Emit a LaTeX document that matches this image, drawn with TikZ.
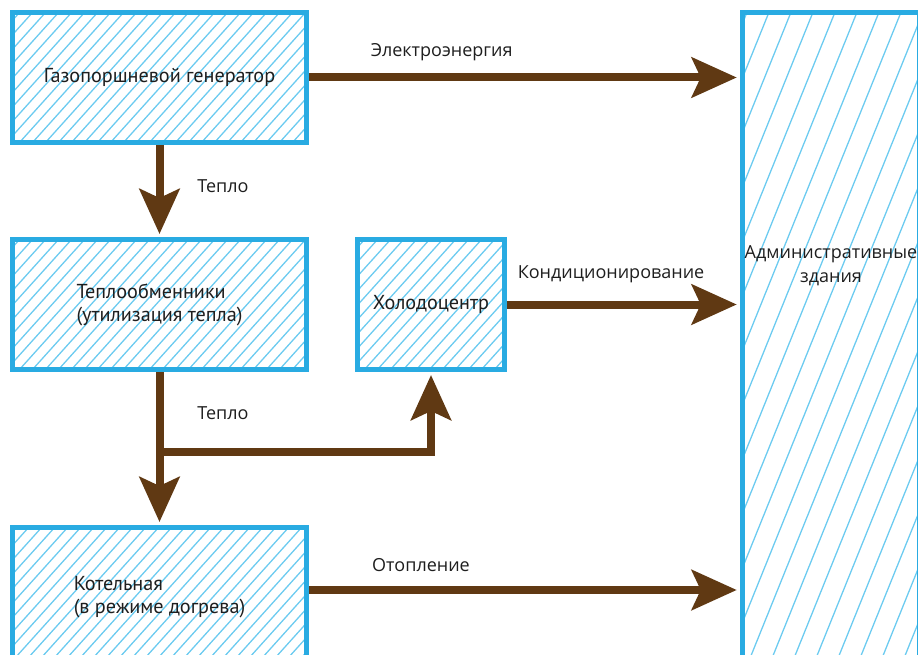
\documentclass[tikz,border=0pt]{standalone}
\usepackage{fontspec}
\setmainfont{PT Sans}
\newfontfamily\labelfont{Open Sans}
\usetikzlibrary{arrows.meta}

\definecolor{framecol}{HTML}{29ABE2}
\definecolor{hatchcol}{HTML}{6CCBF0}
\definecolor{flowcol}{HTML}{603913}
\definecolor{inkcol}{HTML}{1E1E1E}

\begin{document}
\begin{tikzpicture}[x=1pt, y=-1pt,
      hatched/.style 2 args = {path picture={
          \foreach \k in {0,...,80}
            \draw[hatchcol, line width=1.3pt]
              ([xshift=\k*#1-500pt]path picture bounding box.south west) -- ++(#2:900pt);
        }},
      block/.style = {shape=rectangle, draw=framecol, line width=5pt, align=left,
                      text=inkcol, font=\fontsize{20.2}{23}\selectfont, inner sep=0pt},
      flow/.style = {draw=flowcol, line width=8pt, shorten >=3pt,
                     -{Stealth[length=45pt, width=40pt, inset=9pt]}},
      flowlabel/.style = {font=\labelfont\fontsize{18}{24}\selectfont, text=inkcol,
                          inner sep=0pt, text height=12.5pt, text depth=0pt}
      ]
      \useasboundingbox (0,0) rectangle (918,655);
      \node[block, hatched={13pt}{48}, minimum width=294pt, minimum height=130pt]
        (gen) at (159.5,77.5) {Газопоршневой генератор};
      \node[block, hatched={13pt}{48}, minimum width=294pt, minimum height=130pt]
        (hx) at (159.5,304.5) {Теплообменники\\(утилизация тепла)};
      \node[block, hatched={13pt}{48}, minimum width=147pt, minimum height=130pt]
        (cold) at (431,304.5) {Холодоцентр};
      \node[block, hatched={13pt}{48}, minimum width=294pt, minimum height=140pt]
        (boiler) at (159.5,597.5) {Котельная\\(в режиме догрева)};
      \node[block, hatched={22pt}{68}, minimum width=177.5pt, minimum height=650pt,
            label={[flowlabel, align=center, text height=, yshift=73.5pt]center:Административные\\здания}]
        (adm) at (831,337.5) {};

      \coordinate (split) at (159.5,452);
      \coordinate (heatout) at ([yshift=7.5pt]boiler.east);

      \draw[flow] (gen.east) -- node[flowlabel, pos=0.308, yshift=27.5pt] {Электроэнергия} (gen.east -| adm.west);
      \draw[flow] (gen.south) -- node[flowlabel, xshift=63.5pt, yshift=5pt] {Тепло} (hx.north);
      \draw[flow] (cold.east) -- node[flowlabel, pos=0.447, yshift=32.5pt] {Кондиционирование} (cold.east -| adm.west);
      \draw[flow] (hx.south) -- node[flowlabel, pos=0.269, xshift=63.5pt] {Тепло} (boiler.north);
      \draw[flow] (split) -| (cold.south);
      \draw[flow] (heatout) -- node[flowlabel, pos=0.26, yshift=25pt] {Отопление} (heatout -| adm.west);
    \end{tikzpicture}
\end{document}
